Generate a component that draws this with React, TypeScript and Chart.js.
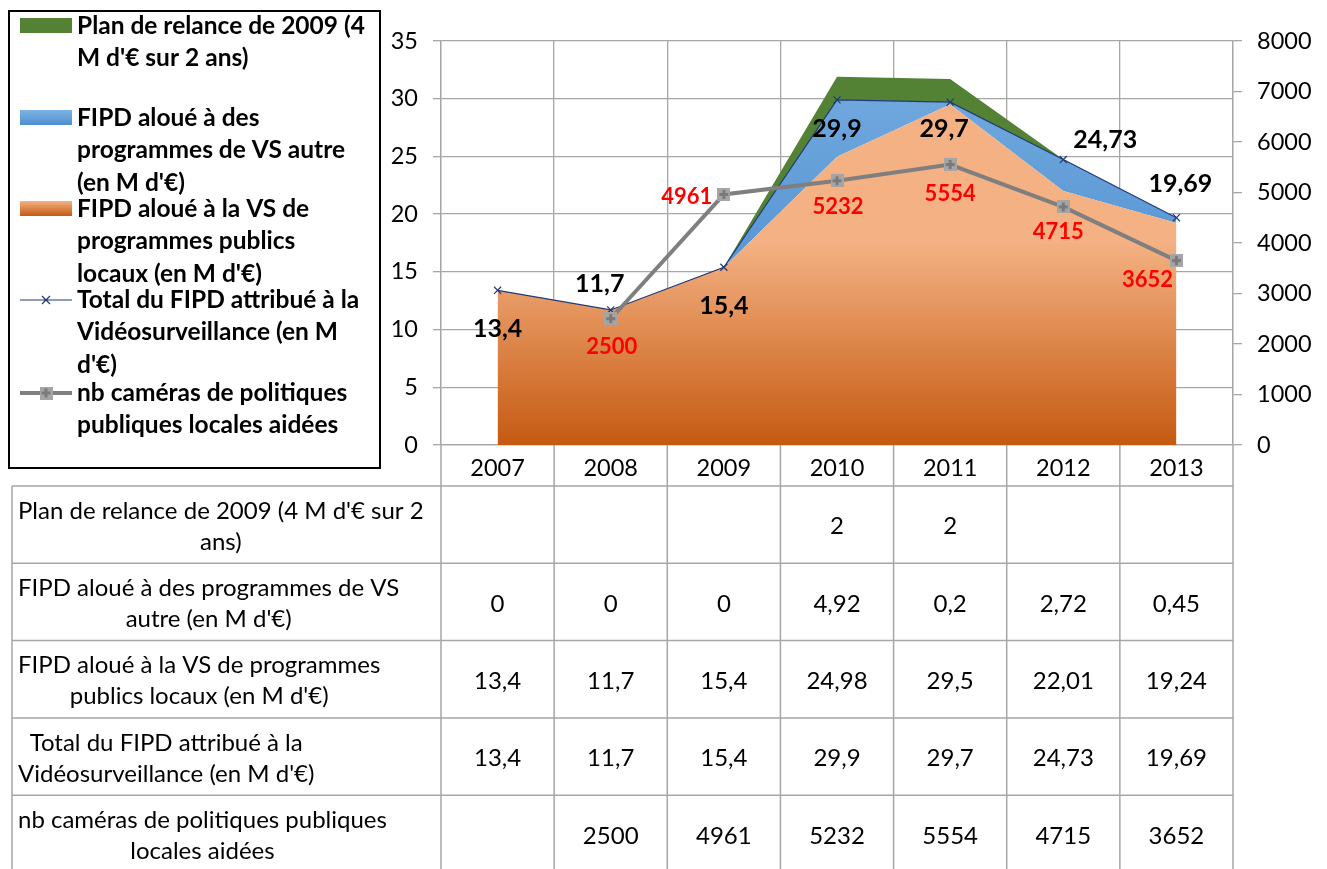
import React, { useEffect, useRef } from 'react';
import { Chart, registerables } from 'chart.js';

Chart.register(...registerables);

// ---------- DATA ----------
const years = ['2007', '2008', '2009', '2010', '2011', '2012', '2013'];
const planRelance: (number | null)[] = [null, null, null, 2, 2, null, null];
const vsAutre: (number | null)[] = [0, 0, 0, 4.92, 0.2, 2.72, 0.45];
const vsLocaux: (number | null)[] = [13.4, 11.7, 15.4, 24.98, 29.5, 22.01, 19.24];
const totalFipd: (number | null)[] = [13.4, 11.7, 15.4, 29.9, 29.7, 24.73, 19.69];
const cameras: (number | null)[] = [null, 2500, 4961, 5232, 5554, 4715, 3652];

const leftAxisMax = 35;
const leftAxisStep = 5;
const rightAxisMax = 8000;
const rightAxisStep = 1000;

const legendLines: string[][] = [
  ['Plan de relance de 2009 (4', "M d'€ sur 2 ans)"],
  ['FIPD aloué à des', 'programmes de VS autre', "(en M d'€)"],
  ['FIPD aloué à la VS de', 'programmes publics', "locaux (en M d'€)"],
  ['Total du FIPD attribué à la', 'Vidéosurveillance (en M', "d'€)"],
  ['nb caméras de politiques', 'publiques locales aidées'],
];

const tableLines: string[][] = [
  ["Plan de relance de 2009 (4 M d'€ sur 2", 'ans)'],
  ['FIPD aloué à des programmes de VS', "autre (en M d'€)"],
  ['FIPD aloué à la VS de programmes', "publics locaux (en M d'€)"],
  ['Total du FIPD attribué à la', "Vidéosurveillance (en M d'€)"],
  ['nb caméras de politiques publiques', 'locales aidées'],
];
const tableValues = [planRelance, vsAutre, vsLocaux, totalFipd, cameras];

// ---------- LAYOUT / STYLE ----------
const W = 1327;
const H = 869;
const FONT = 'Lato, "Open Sans", "Noto Sans", sans-serif';
const GRID = '#a6a6a6';
const ORANGE_LIGHT = '#F4B183';
const ORANGE_DARK = '#C55A11';
const BLUE = '#5B9BD5';
const GREEN = '#548235';
const NAVY = '#1F3A78';
const GRAY = '#7f7f7f';

// label offsets (dx, dy) relative to the point
const totalLabelOffsets = [[0, 39], [-11, -26], [0, 39], [0, 29], [-6, 27], [42, -20], [4, -34]];
const cameraLabelOffsets = [[0, 0], [1, 28], [-37, 2], [1, 26], [0, 29], [-5, 25], [-29, 19]];

const fmt = (v: number | null | undefined) =>
  v === null || v === undefined ? '' : String(v).replace('.', ',');

function makeMarker(): HTMLCanvasElement {
  const c = document.createElement('canvas');
  c.width = 13;
  c.height = 13;
  const g = c.getContext('2d')!;
  g.fillStyle = '#a5a5a5';
  g.fillRect(0, 0, 13, 13);
  g.fillStyle = '#7a7a7a';
  g.fillRect(5, 2, 3, 9);
  g.fillRect(2, 5, 9, 3);
  return c;
}

const orangeFill = (ctx: any) => {
  const area = ctx.chart.chartArea;
  if (!area) return ORANGE_LIGHT;
  const g = ctx.chart.ctx.createLinearGradient(0, area.top + (area.bottom - area.top) * 0.5, 0, area.bottom);
  g.addColorStop(0, ORANGE_LIGHT);
  g.addColorStop(1, ORANGE_DARK);
  return g;
};
const blueFill = (ctx: any) => {
  const area = ctx.chart.chartArea;
  if (!area) return BLUE;
  const g = ctx.chart.ctx.createLinearGradient(0, area.top + 60, 0, area.top + 220);
  g.addColorStop(0, '#6FA7DD');
  g.addColorStop(1, '#5896D4');
  return g;
};

const labelsPlugin = {
  id: 'pointLabels',
  afterDatasetsDraw(chart: any) {
    const ctx = chart.ctx;
    ctx.save();
    ctx.textAlign = 'center';
    ctx.textBaseline = 'middle';
    const metaTotal = chart.getDatasetMeta(1);
    ctx.font = `bold 25px ${FONT}`;
    ctx.fillStyle = '#000';
    totalFipd.forEach((v, i) => {
      if (v === null) return;
      const p = metaTotal.data[i];
      ctx.fillText(fmt(v), p.x + totalLabelOffsets[i][0], p.y + totalLabelOffsets[i][1]);
    });
    const metaCam = chart.getDatasetMeta(0);
    ctx.font = `bold 22px ${FONT}`;
    ctx.fillStyle = '#ff0000';
    cameras.forEach((v, i) => {
      if (v === null) return;
      const p = metaCam.data[i];
      ctx.fillText(fmt(v), p.x + cameraLabelOffsets[i][0], p.y + cameraLabelOffsets[i][1]);
    });
    ctx.restore();
  },
};

const tablePlugin = {
  id: 'dataTableAndLegend',
  afterDraw(chart: any) {
    const ctx = chart.ctx;
    const area = chart.chartArea;
    const xs = chart.scales.x;
    const n = years.length;
    const step = xs.getPixelForValue(1) - xs.getPixelForValue(0);
    const bounds: number[] = [];
    for (let i = 0; i <= n; i++) bounds.push(xs.getPixelForValue(0) - step / 2 + i * step);
    const tableTop = 486;
    const rowH = 77.3;
    const tableLeft = 12;
    const tableBottom = tableTop + rowH * tableValues.length;

    ctx.save();
    ctx.strokeStyle = GRID;
    ctx.lineWidth = 1.5;
    ctx.beginPath();
    bounds.forEach((x) => {
      ctx.moveTo(x, area.bottom);
      ctx.lineTo(x, tableBottom);
    });
    ctx.moveTo(tableLeft, tableTop);
    ctx.lineTo(tableLeft, tableBottom);
    for (let r = 0; r <= tableValues.length; r++) {
      const y = tableTop + r * rowH;
      ctx.moveTo(tableLeft, y);
      ctx.lineTo(bounds[n], y);
    }
    ctx.stroke();

    // table text
    ctx.fillStyle = '#000';
    ctx.font = `24px ${FONT}`;
    ctx.textBaseline = 'middle';
    ctx.textAlign = 'center';
    tableValues.forEach((row, r) => {
      const cy = tableTop + r * rowH + rowH / 2 + 2;
      const lines = tableLines[r];
      const widest = Math.max(...lines.map((l) => ctx.measureText(l).width));
      const cx = 18 + widest / 2;
      const lh = 31;
      lines.forEach((l, k) => {
        ctx.fillText(l, cx, cy + (k - (lines.length - 1) / 2) * lh);
      });
      row.forEach((v, i) => {
        ctx.fillText(fmt(v), (bounds[i] + bounds[i + 1]) / 2, cy);
      });
    });

    // legend box
    ctx.strokeStyle = '#000';
    ctx.lineWidth = 2;
    ctx.strokeRect(9, 11, 371, 457);
    const starts = [26, 118, 209, 300, 393];
    const lh = 32.3;
    ctx.font = `bold 24.5px ${FONT}`;
    ctx.textAlign = 'left';
    legendLines.forEach((lines, e) => {
      lines.forEach((l, k) => ctx.fillText(l, 77, starts[e] + k * lh));
    });
    // legend symbols
    ctx.fillStyle = GREEN;
    ctx.fillRect(20, starts[0] - 8, 52, 15);
    let g = ctx.createLinearGradient(0, starts[1] - 8, 0, starts[1] + 7);
    g.addColorStop(0, '#7DB3E3');
    g.addColorStop(1, '#4F8FCF');
    ctx.fillStyle = g;
    ctx.fillRect(20, starts[1] - 8, 52, 15);
    g = ctx.createLinearGradient(0, starts[2] - 8, 0, starts[2] + 7);
    g.addColorStop(0, ORANGE_LIGHT);
    g.addColorStop(1, ORANGE_DARK);
    ctx.fillStyle = g;
    ctx.fillRect(20, starts[2] - 8, 52, 15);
    ctx.strokeStyle = NAVY;
    ctx.lineWidth = 1.2;
    ctx.beginPath();
    ctx.moveTo(20, starts[3]);
    ctx.lineTo(72, starts[3]);
    ctx.moveTo(42, starts[3] - 4);
    ctx.lineTo(50, starts[3] + 4);
    ctx.moveTo(50, starts[3] - 4);
    ctx.lineTo(42, starts[3] + 4);
    ctx.stroke();
    ctx.strokeStyle = GRAY;
    ctx.lineWidth = 4;
    ctx.beginPath();
    ctx.moveTo(20, starts[4]);
    ctx.lineTo(72, starts[4]);
    ctx.stroke();
    ctx.drawImage(makeMarker(), 46 - 6.5, starts[4] - 6.5);
    ctx.restore();
  },
};

export default function App() {
  const ref = useRef<HTMLCanvasElement | null>(null);
  useEffect(() => {
    document.body.style.margin = '0';
    const canvas = ref.current!;
    const marker = makeMarker();
    const zero = (a: (number | null)[]) => a.map((v) => (v === null ? 0 : v));
    const chart = new Chart(canvas, {
      type: 'line',
      data: {
        labels: years,
        datasets: [
          {
            label: legendLines[4].join(' '),
            data: cameras,
            yAxisID: 'y1',
            borderColor: GRAY,
            borderWidth: 4,
            pointStyle: marker as any,
            pointRadius: 7,
            fill: false,
            tension: 0,
          },
          {
            label: legendLines[3].join(' '),
            data: totalFipd,
            yAxisID: 'y',
            stack: 'total',
            borderColor: NAVY,
            borderWidth: 1.2,
            pointStyle: 'crossRot',
            pointRadius: 5,
            pointBorderColor: NAVY,
            pointBorderWidth: 1.2,
            fill: false,
            tension: 0,
          },
          {
            label: legendLines[2].join(' '),
            data: zero(vsLocaux),
            yAxisID: 'y',
            stack: 'areas',
            fill: 'origin',
            backgroundColor: orangeFill,
            borderColor: 'rgba(0,0,0,0)',
            borderWidth: 0,
            pointRadius: 0,
            tension: 0,
          },
          {
            label: legendLines[1].join(' '),
            data: zero(vsAutre),
            yAxisID: 'y',
            stack: 'areas',
            fill: '-1',
            backgroundColor: blueFill,
            borderColor: 'rgba(0,0,0,0)',
            borderWidth: 0,
            pointRadius: 0,
            tension: 0,
          },
          {
            label: legendLines[0].join(' '),
            data: zero(planRelance),
            yAxisID: 'y',
            stack: 'areas',
            fill: '-1',
            backgroundColor: GREEN,
            borderColor: 'rgba(0,0,0,0)',
            borderWidth: 0,
            pointRadius: 0,
            tension: 0,
          },
        ] as any,
      },
      options: {
        responsive: false,
        animation: false,
        layout: { padding: { top: 41, left: 0, right: 0, bottom: 0 } },
        plugins: { legend: { display: false }, tooltip: { enabled: false } },
        scales: {
          x: {
            offset: true,
            grid: { offset: true, color: GRID, lineWidth: 1.3, drawTicks: false },
            border: { color: GRID, width: 1.3 },
            ticks: { padding: 9, color: '#000', font: { family: FONT, size: 23.5 } },
            afterFit: (s: any) => {
              s.height = H - 445;
            },
          },
          y: {
            stacked: true,
            min: 0,
            max: leftAxisMax,
            ticks: {
              stepSize: leftAxisStep,
              padding: 15,
              color: '#000',
              font: { family: FONT, size: 23.5 },
              callback: (v: any) => String(v),
            },
            grid: { color: GRID, lineWidth: 1.3, tickLength: 8 },
            border: { color: GRID, width: 1.3 },
            afterFit: (s: any) => {
              s.width = 441;
            },
          },
          y1: {
            position: 'right',
            min: 0,
            max: rightAxisMax,
            ticks: {
              stepSize: rightAxisStep,
              padding: 15,
              color: '#000',
              font: { family: FONT, size: 23.5 },
              callback: (v: any) => String(v),
            },
            grid: { drawOnChartArea: false, color: GRID, lineWidth: 1.3, tickLength: 9 },
            border: { color: GRID, width: 1.3 },
            afterFit: (s: any) => {
              s.width = W - 1233;
            },
          },
        },
      } as any,
      plugins: [labelsPlugin, tablePlugin],
    });
    return () => chart.destroy();
  }, []);
  return (
    <div style={{ width: W, height: H, background: '#fff' }}>
      <canvas ref={ref} width={W} height={H} style={{ display: 'block' }} />
    </div>
  );
}
